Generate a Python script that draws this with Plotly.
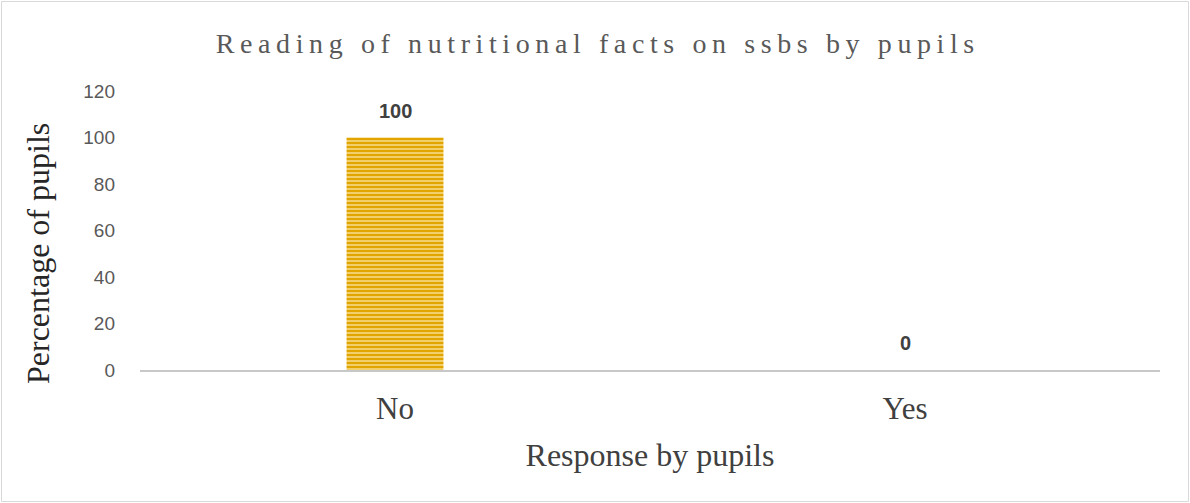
import plotly.graph_objects as go

# Survey response data
categories = ["No", "Yes"]
percentages = [100, 0]
y_ticks = [0, 20, 40, 60, 80, 100, 120]

title_text = "Reading of nutritional facts on ssbs by pupils"
# widen the tracking of the title with thin spaces between letters
spaced_title = "\u2009".join(title_text)

W, H = 1190, 503
L, R, T, B = 140, 30, 91, 133
pw, ph = W - L - R, H - T - B

fig = go.Figure()
fig.add_trace(go.Bar(
    x=categories,
    y=percentages,
    width=0.19,
    marker=dict(
        color="#E2A500",
        line=dict(width=0),
        pattern=dict(shape="-", fgcolor="#F6DA86", bgcolor="#E2A500",
                     size=4, solidity=0.4, fillmode="replace"),
    ),
    hoverinfo="skip",
    showlegend=False,
))

# value labels above bars
for c, v in zip(categories, percentages):
    fig.add_annotation(
        x=c, y=v, xref="x", yref="y", text=f"<b>{v}</b>", showarrow=False,
        yshift=27, font=dict(family="Liberation Sans", size=20, color="#404040"),
    )

# vertical axis title
fig.add_annotation(
    text="Percentage of pupils", textangle=-90, showarrow=False,
    xref="paper", yref="paper", x=(38 - L) / pw, y=(T + ph - 254) / ph,
    xanchor="center", yanchor="middle",
    font=dict(family="Liberation Serif", size=32, color="#262626"),
)

# light frame around the whole chart
fig.add_shape(
    type="rect", xref="paper", yref="paper", layer="below",
    x0=(1.5 - L) / pw, x1=(W - 1.5 - L) / pw,
    y0=(ph + T - (H - 1.5)) / ph, y1=(ph + T - 1.5) / ph,
    line=dict(color="#D9D9D9", width=1), fillcolor="rgba(0,0,0,0)",
)

fig.update_layout(
    width=W, height=H,
    margin=dict(l=L, r=R, t=T, b=B, pad=0),
    paper_bgcolor="white", plot_bgcolor="white",
    title=dict(
        text=spaced_title, x=0.5, xref="container", xanchor="center",
        y=1 - 43 / H, yref="container", yanchor="middle",
        font=dict(family="Liberation Serif", size=28, color="#595959"),
    ),
    xaxis=dict(
        showline=True, linecolor="#C8C8C8", linewidth=2,
        showgrid=False, zeroline=False, ticks="",
        tickfont=dict(family="Liberation Serif", size=31, color="#404040"),
        ticklabelstandoff=10,
        title=dict(text="Response by pupils", standoff=18,
                   font=dict(family="Liberation Serif", size=32, color="#404040")),
    ),
    yaxis=dict(
        range=[0, 120], tickvals=y_ticks, ticktext=[str(t) for t in y_ticks],
        showgrid=False, zeroline=False, showline=False, ticks="",
        tickfont=dict(family="Liberation Sans", size=19, color="#595959"),
        ticklabelstandoff=24,
    ),
)

fig.write_html("out.html")
